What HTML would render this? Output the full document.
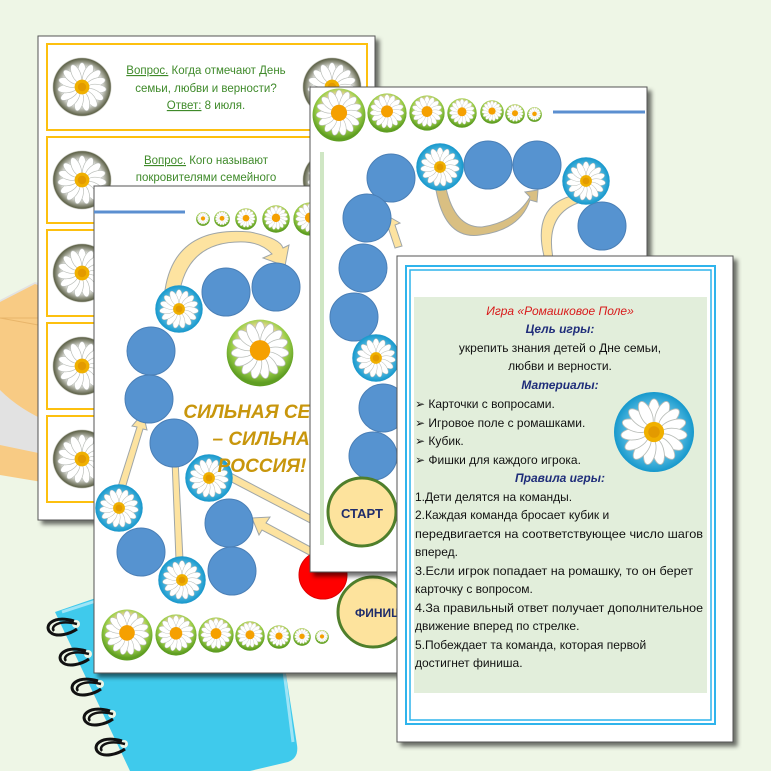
<!DOCTYPE html>
<html><head><meta charset="utf-8"><style>
html,body{margin:0;padding:0;background:#eef6e6;}
svg{display:block}
text{font-family:"Liberation Sans",sans-serif;}
</style></head><body>
<svg width="771" height="771" viewBox="0 0 771 771" xmlns="http://www.w3.org/2000/svg">
<defs>
<radialGradient id="bg1" cx="50%" cy="50%" r="50%"><stop offset="0.6" stop-color="#fff"/><stop offset="0.95" stop-color="#5d6147"/><stop offset="1" stop-color="#fff" stop-opacity="0"/></radialGradient>
<radialGradient id="blu" cx="50%" cy="50%" r="50%"><stop offset="0.55" stop-color="#6cc6e8"/><stop offset="1" stop-color="#1698cc"/></radialGradient>
<radialGradient id="grn" cx="50%" cy="40%" r="55%"><stop offset="0.5" stop-color="#ffd9a8"/><stop offset="0.75" stop-color="#9ccf4a"/><stop offset="1" stop-color="#5f9e22"/></radialGradient>
<symbol id="p" viewBox="-50 -50 100 100">
<g fill="#fff" stroke="#b9bdb8" stroke-width="1.2">
<ellipse cx="0" cy="-28" rx="8" ry="18"/>
<ellipse cx="0" cy="-28" rx="8" ry="18" transform="rotate(24)"/>
<ellipse cx="0" cy="-28" rx="8" ry="18" transform="rotate(48)"/>
<ellipse cx="0" cy="-28" rx="8" ry="18" transform="rotate(72)"/>
<ellipse cx="0" cy="-28" rx="8" ry="18" transform="rotate(96)"/>
<ellipse cx="0" cy="-28" rx="8" ry="18" transform="rotate(120)"/>
<ellipse cx="0" cy="-28" rx="8" ry="18" transform="rotate(144)"/>
<ellipse cx="0" cy="-28" rx="8" ry="18" transform="rotate(168)"/>
<ellipse cx="0" cy="-28" rx="8" ry="18" transform="rotate(192)"/>
<ellipse cx="0" cy="-28" rx="8" ry="18" transform="rotate(216)"/>
<ellipse cx="0" cy="-28" rx="8" ry="18" transform="rotate(240)"/>
<ellipse cx="0" cy="-28" rx="8" ry="18" transform="rotate(264)"/>
<ellipse cx="0" cy="-28" rx="8" ry="18" transform="rotate(288)"/>
<ellipse cx="0" cy="-28" rx="8" ry="18" transform="rotate(312)"/>
<ellipse cx="0" cy="-28" rx="8" ry="18" transform="rotate(336)"/>
</g>
<circle r="14" fill="#f0b000"/><circle r="8" fill="#e39a00"/>
</symbol>
<symbol id="gd" viewBox="-50 -50 100 100"><circle r="50" fill="url(#bg1)"/><use href="#p" x="-44" y="-44" width="88" height="88"/></symbol>
<symbol id="bd" viewBox="-50 -50 100 100"><circle r="49" fill="url(#blu)" stroke="#2a9acb"/><use href="#p" x="-44" y="-44" width="88" height="88"/></symbol>
<symbol id="sd" viewBox="-50 -50 100 100"><circle r="49" fill="url(#grn)"/><use href="#p" x="-46" y="-50" width="92" height="92"/><circle cx="0" cy="-4" r="15" fill="#f5a000"/></symbol>
<symbol id="ring" viewBox="0 0 40 24"><path d="M30,5 C8,-1 0,10 6,16 C12,22 26,18 33,13" fill="none" stroke="#111" stroke-width="3"/><path d="M33,8 C14,3 6,11 10,15" fill="none" stroke="#111" stroke-width="2.5"/></symbol>
<filter id="sh" x="-5%" y="-5%" width="115%" height="115%"><feDropShadow dx="4" dy="4" stdDeviation="2" flood-color="#000" flood-opacity="0.55"/></filter>
</defs>

<!-- book -->
<polygon points="0,300 35,282 120,310 120,500 0,470" fill="#e2e2e2"/>
<polygon points="0,302 35,284 120,315 120,430 0,420" fill="#f8cb84"/>
<polygon points="0,318 40,318 120,340" fill="none" stroke="#e8b56a"/>
<path d="M0,390 Q40,430 120,440 L120,500 L0,470Z" fill="#e2e2e2"/>
<polygon points="0,445 120,470 120,495 0,475" fill="#f8cb84"/>
<!-- notebook -->
<path d="M55,612 L265,540 L297,745 Q299,758 288,762 L250,771 L130,771 Z" fill="#3fcaec"/>
<polyline points="62,612 268,545 293,742" fill="none" stroke="#9fe4f6" stroke-width="3"/>
<g fill="#eef6e6"><circle cx="76" cy="624" r="4"/><circle cx="88" cy="654" r="4"/><circle cx="100" cy="684" r="4"/><circle cx="112" cy="714" r="4"/><circle cx="124" cy="744" r="4"/></g>
<use href="#ring" x="44" y="616" width="40" height="24"/>
<use href="#ring" x="56" y="646" width="40" height="24"/>
<use href="#ring" x="68" y="676" width="40" height="24"/>
<use href="#ring" x="80" y="706" width="40" height="24"/>
<use href="#ring" x="92" y="736" width="40" height="24"/>

<!-- question cards sheet -->
<rect x="38" y="36" width="337" height="484" fill="#fff" stroke="#555" filter="url(#sh)"/>
<g fill="none" stroke="#fdc00f" stroke-width="2">
<rect x="47" y="44" width="320" height="86"/><rect x="47" y="137" width="320" height="86"/><rect x="47" y="230" width="320" height="86"/><rect x="47" y="323" width="320" height="86"/><rect x="47" y="416" width="320" height="86"/>
</g>
<use href="#gd" x="52" y="57" width="60" height="60"/><use href="#gd" x="302" y="57" width="60" height="60"/>
<use href="#gd" x="52" y="150" width="60" height="60"/><use href="#gd" x="302" y="150" width="60" height="60"/>
<use href="#gd" x="52" y="243" width="60" height="60"/>
<use href="#gd" x="52" y="336" width="60" height="60"/>
<use href="#gd" x="52" y="429" width="60" height="60"/>
<g fill="#3f8a2a" font-size="11.5" text-anchor="middle">
<text x="206" y="74"><tspan text-decoration="underline">Вопрос.</tspan> Когда отмечают День</text>
<text x="206" y="92">семьи, любви и верности?</text>
<text x="206" y="109"><tspan text-decoration="underline">Ответ:</tspan> 8 июля.</text>
<text x="206" y="164"><tspan text-decoration="underline">Вопрос.</tspan> Кого называют</text>
<text x="206" y="181">покровителями семейного</text>
<text x="206" y="198">счастья в России?</text>
</g>

<!-- board 1 -->
<rect x="94" y="186" width="310" height="487" fill="#fff" stroke="#555" filter="url(#sh)"/>
<line x1="94" y1="212" x2="185" y2="212" stroke="#5b8fd0" stroke-width="3"/>
<use href="#sd" x="196" y="212" width="14" height="14"/><use href="#sd" x="214" y="211" width="16" height="16"/><use href="#sd" x="235" y="208" width="22" height="22"/><use href="#sd" x="262" y="205" width="28" height="28"/><use href="#sd" x="293" y="202" width="34" height="34"/>
<g fill="#fde3a0" stroke="#9fa6a8" stroke-width="1">
<path d="M165,290 Q175,225 250,232 Q280,238 283,248 L289,245 L285,266 L263,258 L272,254 Q262,243 245,242 Q190,240 180,290Z"/>
<path d="M117,490 L137,427 L132,426 L143,413 L147,430 L143,429 L124,492Z"/>
<path d="M176,560 L172,460 L168,460 L175,447 L182,460 L178,460 L183,560Z"/>
<path d="M225,470 L320,520 L316,526 L222,477Z"/>
<path d="M315,558 L262,530 L259,535 L252,518 L270,517 L266,523 L318,551Z"/>
</g>
<g fill="#5693d0" stroke="#4a7fb6">
<circle cx="226" cy="292" r="24"/><circle cx="276" cy="287" r="24"/>
<circle cx="151" cy="351" r="24"/><circle cx="149" cy="399" r="24"/><circle cx="174" cy="443" r="24"/>
<circle cx="229" cy="523" r="24"/><circle cx="141" cy="552" r="24"/><circle cx="232" cy="571" r="24"/>
</g>
<circle cx="323" cy="575" r="24" fill="#ff0000" stroke="#d00"/>
<use href="#bd" x="155" y="285" width="48" height="48"/>
<use href="#bd" x="185" y="454" width="48" height="48"/>
<use href="#bd" x="95" y="484" width="48" height="48"/>
<use href="#bd" x="158" y="556" width="48" height="48"/>
<use href="#sd" x="226" y="319" width="68" height="68"/>
<g fill="#c8960c" font-size="19" font-weight="bold" font-style="italic" text-anchor="middle">
<text x="268" y="418">СИЛЬНАЯ СЕМЬЯ</text>
<text x="268" y="445">– СИЛЬНАЯ</text>
<text x="262" y="472">РОССИЯ!</text>
</g>
<circle cx="373" cy="612" r="35" fill="#fde39d" stroke="#4f7f2b" stroke-width="3"/>
<text x="355" y="617" font-size="12" font-weight="bold" fill="#1f2d6b">ФИНИШ</text>
<use href="#sd" x="101" y="609" width="52" height="52"/><use href="#sd" x="155" y="614" width="42" height="42"/><use href="#sd" x="198" y="617" width="36" height="36"/><use href="#sd" x="235" y="621" width="30" height="30"/><use href="#sd" x="267" y="625" width="24" height="24"/><use href="#sd" x="293" y="628" width="18" height="18"/><use href="#sd" x="315" y="630" width="14" height="14"/>

<!-- board 2 -->
<rect x="310" y="87" width="337" height="485" fill="#fff" stroke="#555" filter="url(#sh)"/>
<rect x="320" y="152" width="4" height="393" fill="#cfe6c4"/>
<line x1="553" y1="112" x2="645" y2="112" stroke="#5b8fd0" stroke-width="3"/>
<use href="#sd" x="312" y="88" width="54" height="54"/><use href="#sd" x="367" y="93" width="40" height="40"/><use href="#sd" x="409" y="95" width="36" height="36"/><use href="#sd" x="447" y="98" width="30" height="30"/><use href="#sd" x="480" y="100" width="24" height="24"/><use href="#sd" x="505" y="104" width="20" height="20"/><use href="#sd" x="527" y="107" width="15" height="15"/>
<g fill="#fde3a0" stroke="#9fa6a8" stroke-width="1">
<path d="M436,190 Q445,240 480,235 Q520,230 530,200 L537,202 L538,190 L525,192 L530,197 Q515,222 482,227 Q455,228 446,188Z" fill="#d9bf82"/>
<path d="M575,195 Q530,205 545,260 L553,258 Q545,215 578,203Z"/>
<path d="M395,248 L388,227 L384,230 L386,215 L400,223 L395,225 L402,246Z"/>
</g>
<g fill="#5693d0" stroke="#4a7fb6">
<circle cx="391" cy="178" r="24"/><circle cx="488" cy="165" r="24"/><circle cx="537" cy="165" r="24"/><circle cx="602" cy="226" r="24"/>
<circle cx="367" cy="218" r="24"/><circle cx="363" cy="268" r="24"/><circle cx="354" cy="317" r="24"/>
<circle cx="383" cy="408" r="24"/><circle cx="373" cy="456" r="24"/>
</g>
<use href="#bd" x="416" y="143" width="48" height="48"/>
<use href="#bd" x="562" y="157" width="48" height="48"/>
<use href="#bd" x="352" y="334" width="48" height="48"/>
<circle cx="362" cy="512" r="34" fill="#fde39d" stroke="#4f7f2b" stroke-width="3"/>
<text x="362" y="518" font-size="13" font-weight="bold" fill="#1f2d6b" text-anchor="middle">СТАРТ</text>

<!-- rules sheet -->
<rect x="397" y="256" width="336" height="486" fill="#fff" stroke="#555" filter="url(#sh)"/>
<rect x="406" y="266" width="309" height="458" fill="none" stroke="#2fb4ec" stroke-width="2"/>
<rect x="410" y="270" width="301" height="450" fill="none" stroke="#2fb4ec" stroke-width="1.5"/>
<rect x="414" y="297" width="293" height="396" fill="#e2eedb"/>
<circle cx="654" cy="432" r="40" fill="url(#blu)"/>
<use href="#p" x="618" y="396" width="72" height="72"/>
<g font-size="12" fill="#111">
<text x="560" y="315" text-anchor="middle" fill="#d81a1a" font-style="italic">Игра «Ромашковое Поле»</text>
<text x="560" y="333" text-anchor="middle" fill="#1f2d7a" font-weight="bold" font-style="italic">Цель игры:</text>
<text x="560" y="352" text-anchor="middle">укрепить знания детей о Дне семьи,</text>
<text x="560" y="370" text-anchor="middle">любви и верности.</text>
<text x="560" y="389" text-anchor="middle" fill="#1f2d7a" font-weight="bold" font-style="italic">Материалы:</text>
<text x="415" y="408">➢ Карточки с вопросами.</text>
<text x="415" y="427">➢ Игровое поле с ромашками.</text>
<text x="415" y="445">➢ Кубик.</text>
<text x="415" y="464">➢ Фишки для каждого игрока.</text>
<text x="560" y="482" text-anchor="middle" fill="#1f2d7a" font-weight="bold" font-style="italic">Правила игры:</text>
<text x="415" y="501">1.Дети делятся на команды.</text>
<text x="415" y="519">2.Каждая команда бросает кубик и</text>
<text x="415" y="538" textLength="288" lengthAdjust="spacingAndGlyphs">передвигается на соответствующее число шагов</text>
<text x="415" y="556">вперед.</text>
<text x="415" y="575" textLength="278" lengthAdjust="spacingAndGlyphs">3.Если игрок попадает на ромашку, то он берет</text>
<text x="415" y="593">карточку с вопросом.</text>
<text x="415" y="612" textLength="288" lengthAdjust="spacingAndGlyphs">4.За правильный ответ получает дополнительное</text>
<text x="415" y="630">движение вперед по стрелке.</text>
<text x="415" y="649">5.Побеждает та команда, которая первой</text>
<text x="415" y="667">достигнет финиша.</text>
</g>
</svg>
</body></html>
